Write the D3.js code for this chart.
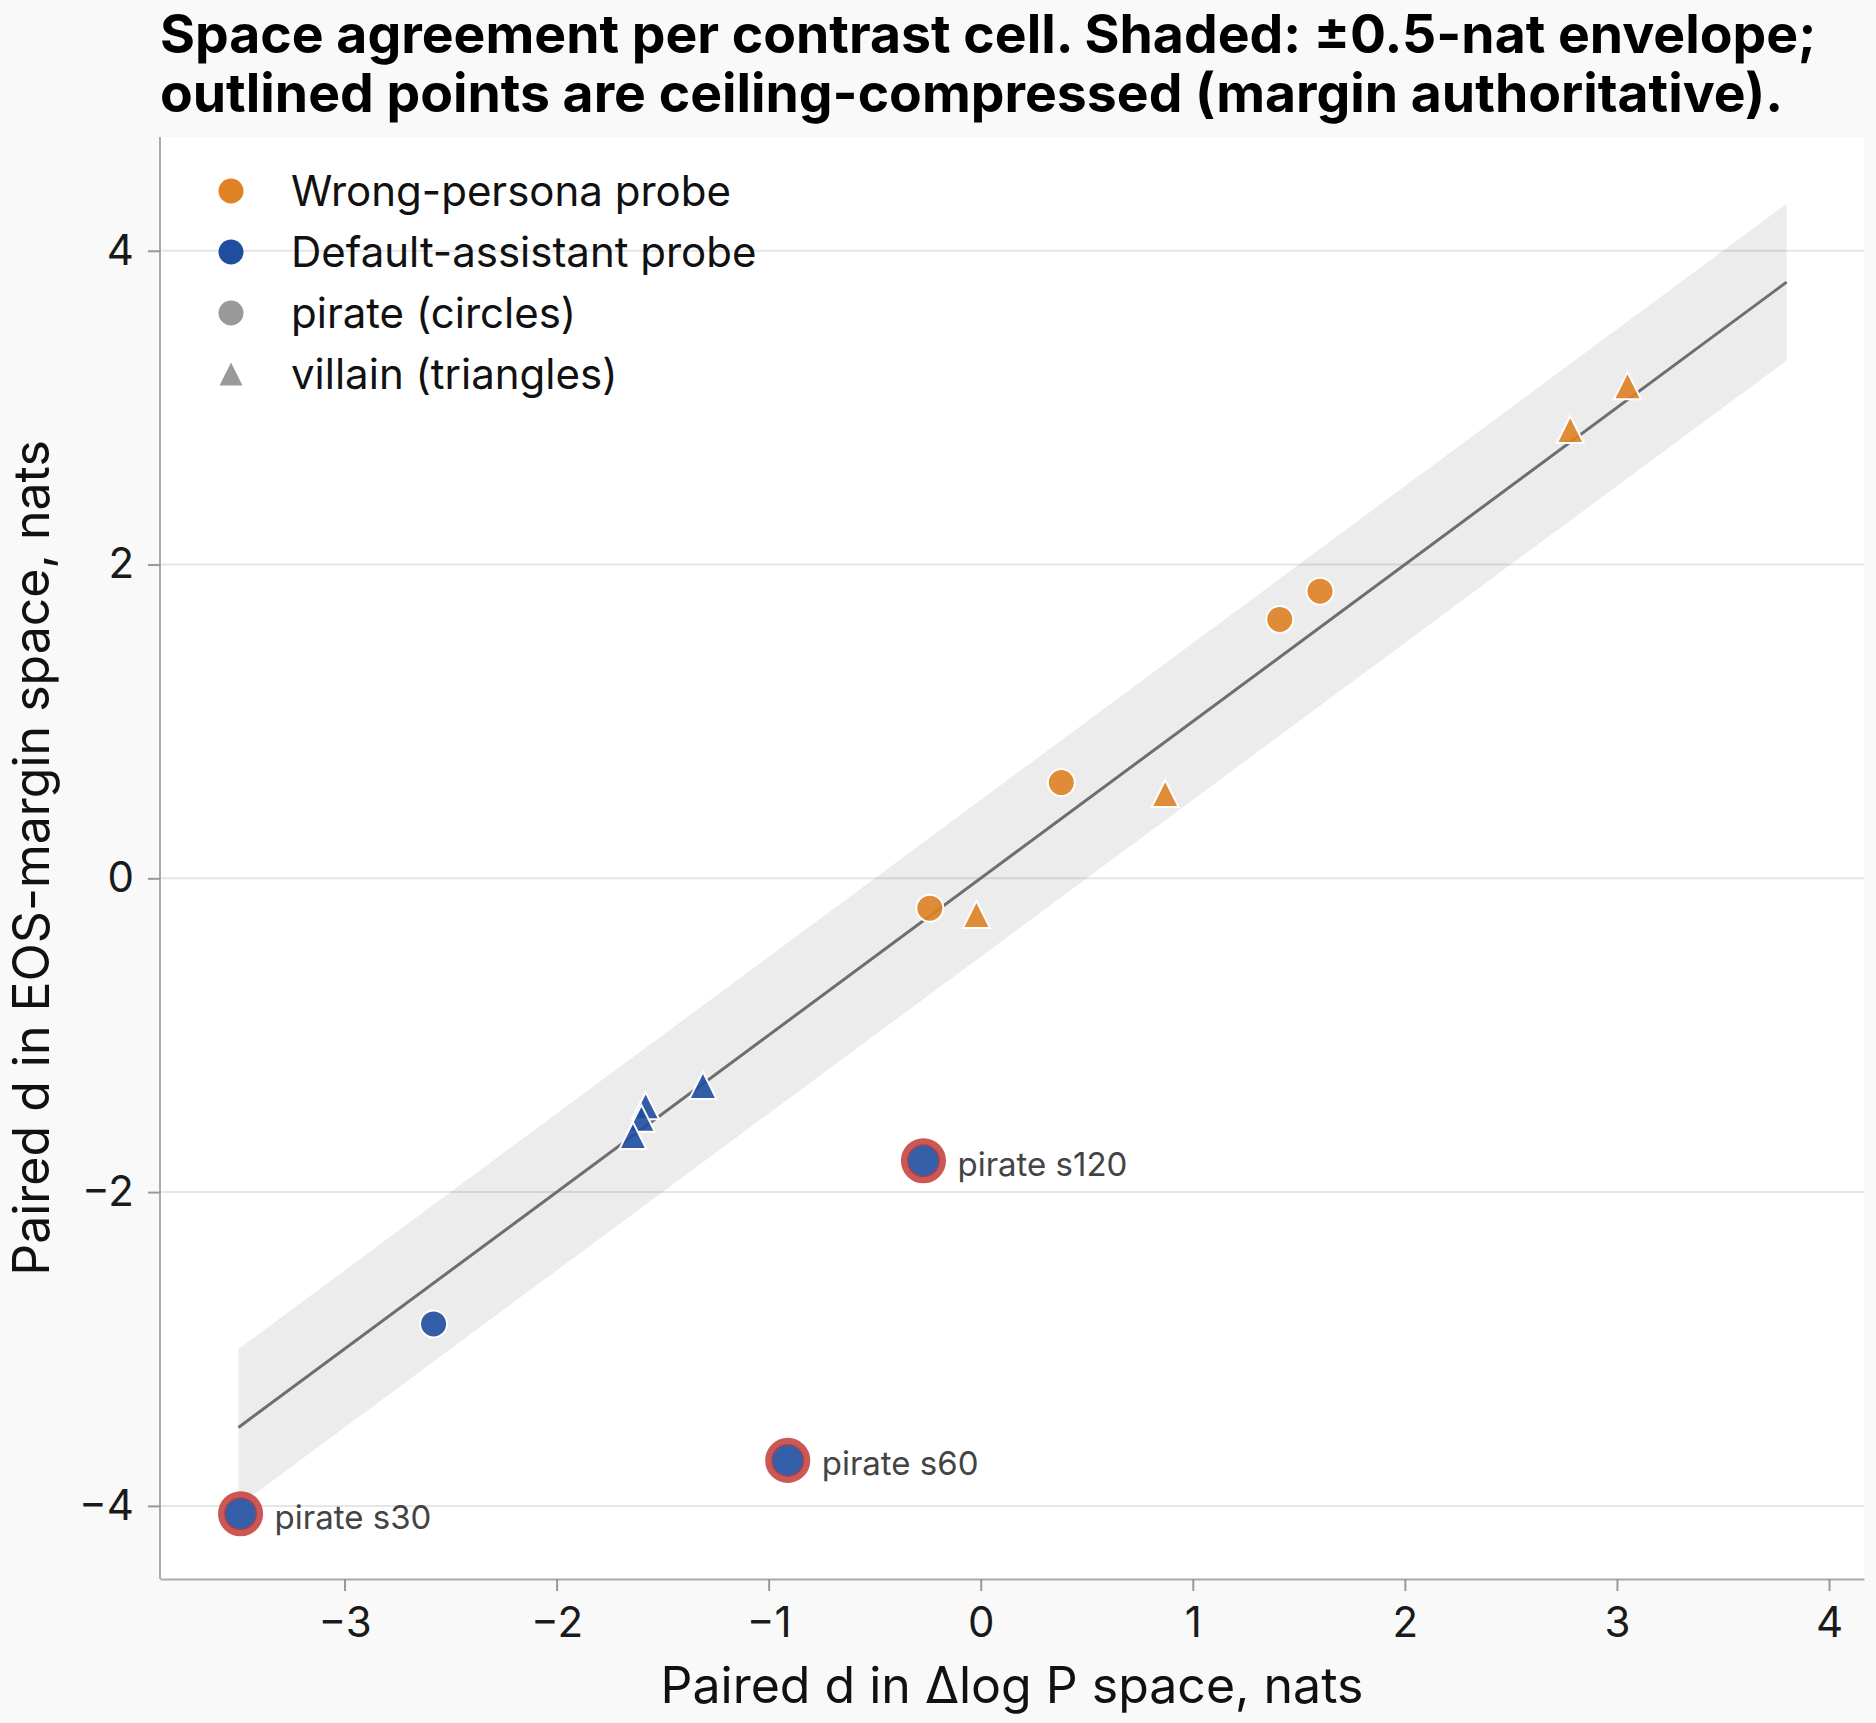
<!DOCTYPE html>
<html>
<head>
<meta charset="utf-8">
<script src="https://cdn.jsdelivr.net/npm/d3@7"></script>
<style>
    html, body { margin: 0; padding: 0; background: #f9f9f9; }
    svg { display: block; font-family: Inter, "Noto Sans", sans-serif; }
</style>
</head>
<body>
<svg id="chart" width="1876" height="1723"></svg>
<script>
/**
 * Space agreement scatter: EOS-margin vs delta log P
 */
(function () {

    // --- data ---
    // [x = paired d in dlogP space, y = paired d in EOS-margin space]
    var wrongPiratePts = [[-0.24, -0.19], [0.38, 0.61], [1.41, 1.65], [1.60, 1.83]];
    var wrongVillainPts = [[-0.02, -0.23], [0.87, 0.54], [2.78, 2.86], [3.05, 3.14]];
    var defaultPiratePts = [[-2.58, -2.84]];
    var defaultVillainPts = [[-1.31, -1.32], [-1.58, -1.45], [-1.60, -1.53], [-1.64, -1.64]];
    // ceiling-compressed points (outlined)
    var compressedPts = [[-3.49, -4.05], [-0.91, -3.71], [-0.27, -1.80]];
    var compressedLabels = ["pirate s30", "pirate s60", "pirate s120"];

    var identityRange = [-3.5, 3.8];
    var envelope = 0.5;

    var xTicks = [-3, -2, -1, 0, 1, 2, 3, 4];
    var yTicks = [-4, -2, 0, 2, 4];

    var legendLabels = ["Wrong-persona probe", "Default-assistant probe", "pirate (circles)", "villain (triangles)"];

    var titleLines = [
        "Space agreement per contrast cell. Shaded: \u00b10.5-nat envelope;",
        "outlined points are ceiling-compressed (margin authoritative)."
    ];

    // --- colours ---
    var orange = "#df8125";
    var blue = "#1f4e9e";
    var grey = "#999999";
    var ringRed = "#c23b36";

    var svg = d3.select("#chart");

    var plot = { left: 160, right: 1864, top: 137, bottom: 1579 };

    var x = d3.scaleLinear().domain([-3.87, 4.165]).range([plot.left, plot.right]);
    var y = d3.scaleLinear().domain([-4.466, 4.725]).range([plot.bottom, plot.top]);

    var fmt = function (d) { return d < 0 ? "\u2212" + Math.abs(d) : String(d); };

    // matplotlib style "^" : triangle centred on its bounding box
    var triUp = {
        draw: function (ctx, size) {
            var h = Math.sqrt(size) / 2;
            ctx.moveTo(0, -h);
            ctx.lineTo(h, h);
            ctx.lineTo(-h, h);
            ctx.closePath();
        }
    };

    // background
    svg.append("rect").attr("width", 1876).attr("height", 1723).attr("fill", "#f9f9f9");
    svg.append("rect")
        .attr("x", plot.left).attr("y", plot.top)
        .attr("width", plot.right - plot.left).attr("height", plot.bottom - plot.top)
        .attr("fill", "#ffffff");

    // horizontal grid
    svg.append("g").selectAll("line").data(yTicks).enter().append("line")
        .attr("x1", plot.left).attr("x2", plot.right)
        .attr("y1", function (d) { return y(d); }).attr("y2", function (d) { return y(d); })
        .attr("stroke", "#e6e6e6").attr("stroke-width", 2);

    // +-0.5 nat envelope around y = x
    var band = [
        [identityRange[0], identityRange[0] - envelope],
        [identityRange[0], identityRange[0] + envelope],
        [identityRange[1], identityRange[1] + envelope],
        [identityRange[1], identityRange[1] - envelope]
    ];
    svg.append("path")
        .attr("d", d3.line().x(function (d) { return x(d[0]); }).y(function (d) { return y(d[1]); })(band) + "Z")
        .attr("fill", "#000").attr("fill-opacity", 0.075);

    svg.append("line")
        .attr("x1", x(identityRange[0])).attr("y1", y(identityRange[0]))
        .attr("x2", x(identityRange[1])).attr("y2", y(identityRange[1]))
        .attr("stroke", "#6e6e6e").attr("stroke-width", 3);

    // axes
    var xAxis = svg.append("g")
        .attr("transform", "translate(0," + plot.bottom + ")")
        .call(d3.axisBottom(x).tickValues(xTicks).tickFormat(fmt).tickSize(12).tickSizeOuter(0).tickPadding(16));
    var yAxis = svg.append("g")
        .attr("transform", "translate(" + plot.left + ",0)")
        .call(d3.axisLeft(y).tickValues(yTicks).tickFormat(fmt).tickSize(12).tickSizeOuter(0).tickPadding(14));

    [xAxis, yAxis].forEach(function (g) {
        g.select(".domain").attr("stroke", "#aaaaaa").attr("stroke-width", 2);
        g.selectAll(".tick line").attr("stroke", "#999999").attr("stroke-width", 2);
        g.selectAll(".tick text")
            .attr("font-family", "Inter, sans-serif")
            .attr("font-size", 42).attr("fill", "#1a1a1a");
    });
    yAxis.select(".domain").attr("d", "M0," + plot.top + "V" + plot.bottom);

    // points
    function circles(data, color, r) {
        svg.append("g").selectAll("circle").data(data).enter().append("circle")
            .attr("cx", function (d) { return x(d[0]); })
            .attr("cy", function (d) { return y(d[1]); })
            .attr("r", r)
            .attr("fill", color).attr("fill-opacity", 0.9)
            .attr("stroke", "#ffffff").attr("stroke-width", 2);
    }

    function triangles(data, color) {
        svg.append("g").selectAll("path").data(data).enter().append("path")
            .attr("d", d3.symbol().type(triUp).size(27 * 27))
            .attr("transform", function (d) { return "translate(" + x(d[0]) + "," + y(d[1]) + ")"; })
            .attr("fill", color).attr("fill-opacity", 0.9)
            .attr("stroke", "#ffffff").attr("stroke-width", 2);
    }

    triangles(defaultVillainPts, blue);
    circles(defaultPiratePts, blue, 13.5);
    circles(wrongPiratePts, orange, 13.5);
    triangles(wrongVillainPts, orange);

    // ceiling-compressed: bigger blue point with a red ring on top
    circles(compressedPts, blue, 17.5);
    svg.append("g").selectAll("circle").data(compressedPts).enter().append("circle")
        .attr("cx", function (d) { return x(d[0]); })
        .attr("cy", function (d) { return y(d[1]); })
        .attr("r", 18.8)
        .attr("fill", "none")
        .attr("stroke", ringRed).attr("stroke-opacity", 0.85).attr("stroke-width", 7.5);

    svg.append("g").selectAll("text").data(compressedPts).enter().append("text")
        .attr("x", function (d) { return x(d[0]) + 34; })
        .attr("y", function (d) { return y(d[1]) + 15; })
        .attr("font-size", 33).attr("fill", "#444444")
        .text(function (d, i) { return compressedLabels[i]; });

    // legend
    var legendRows = [191, 252, 313, 374];
    var legend = svg.append("g");
    legendLabels.forEach(function (label, i) {
        var cy = legendRows[i];
        if (i === 3) {
            legend.append("path")
                .attr("d", d3.symbol().type(triUp).size(23 * 23))
                .attr("transform", "translate(231," + cy + ")")
                .attr("fill", grey);
        } else {
            legend.append("circle")
                .attr("cx", 231).attr("cy", cy).attr("r", 12.5)
                .attr("fill", [orange, blue, grey][i]);
        }
        legend.append("text")
            .attr("x", 291).attr("y", cy).attr("dy", "0.36em")
            .attr("font-size", 42).attr("fill", "#111111")
            .text(label);
    });

    // axis labels
    svg.append("text")
        .attr("x", (plot.left + plot.right) / 2).attr("y", 1703)
        .attr("text-anchor", "middle")
        .attr("font-size", 50).attr("fill", "#111111")
        .text("Paired d in \u0394log P space, nats");

    svg.append("text")
        .attr("transform", "translate(49," + (plot.top + plot.bottom) / 2 + ") rotate(-90)")
        .attr("text-anchor", "middle")
        .attr("font-size", 50).attr("fill", "#111111")
        .text("Paired d in EOS-margin space, nats");

    // title
    svg.append("g").selectAll("text").data(titleLines).enter().append("text")
        .attr("x", 160)
        .attr("y", function (d, i) { return 53 + i * 59; })
        .attr("font-size", 53.5).attr("font-weight", 700).attr("fill", "#000000")
        .text(function (d) { return d; });

})();
</script>
</body>
</html>
